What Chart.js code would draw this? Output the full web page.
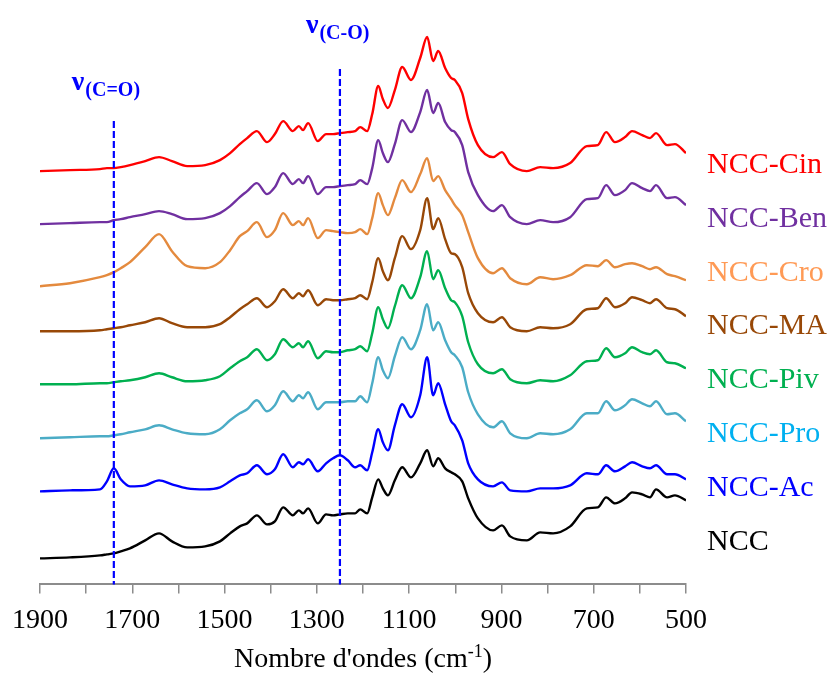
<!DOCTYPE html>
<html>
<head>
<meta charset="utf-8">
<title>Spectres IR des NCC</title>
<script src="https://cdn.jsdelivr.net/npm/chart.js@4.4.0/dist/chart.umd.min.js"></script>
<style>
    html, body { margin: 0; padding: 0; background: #ffffff; }
    #chart { display: block; }
</style>
</head>
<body>
<canvas id="chart" width="831" height="673"></canvas>
<script>
// Wavenumbers (cm-1) at which the spectra were read, from high to low.
var wavenumbers = [
    1900, 1835, 1770, 1755, 1740, 1725, 1705, 1672, 1642, 1614,
    1581, 1542, 1510, 1488, 1467, 1451, 1430, 1408, 1391, 1373,
    1352, 1339, 1330, 1319, 1298, 1280, 1265, 1250, 1233, 1217,
    1206, 1191, 1180, 1167, 1157, 1146, 1131, 1115, 1096, 1076,
    1061, 1048, 1037, 1022, 1009, 1001, 985, 972, 951, 918,
    899, 881, 845, 816, 788, 751, 715, 691, 673, 654,
    632, 617, 595, 578, 565, 541, 524, 500
];

// Absorbance of every sample (a.u. x 100, spectra stacked with an offset).
var nccCin = [
    413, 414, 415, 416, 416, 417, 419, 423, 427, 423,
    418, 419, 424, 431, 440, 446, 453, 442, 450, 463,
    453, 458, 454, 461, 443, 450, 450, 451, 452, 453,
    457, 453, 470, 498, 485, 476, 494, 517, 504, 526,
    547, 523, 533, 516, 506, 504, 491, 465, 439, 427,
    432, 420, 413, 417, 416, 421, 438, 439, 452, 442,
    447, 453, 449, 446, 451, 439, 440, 431
];
var nccBen = [
    360, 361, 362, 362, 364, 365, 367, 370, 373, 370,
    365, 366, 371, 378, 387, 393, 401, 390, 397, 411,
    400, 405, 401, 408, 390, 397, 397, 398, 399, 400,
    404, 400, 416, 444, 431, 422, 440, 464, 452, 472,
    494, 471, 481, 462, 454, 452, 439, 412, 389, 373,
    379, 367, 360, 364, 362, 367, 385, 386, 399, 389,
    394, 401, 396, 393, 399, 386, 387, 379
];
var nccCro = [
    298, 301, 307, 309, 312, 316, 322, 337, 350, 333,
    318, 316, 322, 334, 348, 353, 362, 347, 354, 371,
    359, 363, 359, 366, 346, 354, 353, 352, 351, 352,
    355, 350, 366, 391, 379, 369, 386, 404, 392, 410,
    426, 403, 408, 394, 385, 379, 369, 352, 326, 311,
    316, 306, 300, 307, 305, 309, 319, 318, 324, 317,
    320, 321, 318, 315, 317, 310, 308, 304
];
var nccMa = [
    253, 253, 254, 255, 256, 257, 259, 262, 266, 261,
    257, 257, 260, 267, 275, 280, 286, 277, 283, 295,
    286, 291, 288, 294, 279, 285, 284, 284, 285, 286,
    289, 285, 302, 326, 313, 304, 326, 348, 335, 354,
    386, 355, 366, 345, 331, 330, 317, 291, 271, 262,
    267, 257, 253, 257, 256, 260, 275, 276, 286, 277,
    281, 287, 284, 281, 285, 276, 275, 268
];
var nccPiv = [
    200, 200, 201, 201, 202, 203, 204, 207, 211, 207,
    203, 204, 208, 216, 223, 227, 235, 224, 230, 245,
    237, 241, 237, 243, 226, 233, 232, 232, 234, 235,
    238, 233, 251, 277, 265, 256, 278, 299, 286, 307,
    333, 305, 314, 296, 284, 282, 268, 242, 220, 211,
    215, 205, 201, 204, 203, 209, 223, 224, 236, 227,
    231, 237, 232, 230, 234, 222, 221, 216
];
var nccPro = [
    146, 147, 148, 148, 149, 150, 152, 155, 159, 155,
    151, 150, 155, 164, 171, 175, 184, 173, 179, 193,
    183, 189, 186, 192, 175, 182, 182, 182, 183, 183,
    188, 182, 201, 227, 214, 206, 228, 247, 235, 254,
    280, 254, 262, 244, 232, 229, 217, 192, 170, 157,
    163, 151, 146, 151, 150, 155, 171, 171, 183, 174,
    179, 185, 181, 178, 183, 170, 171, 163
];
var nccAc = [
    93, 94, 95, 103, 116, 105, 98, 99, 104, 100,
    96, 95, 97, 103, 109, 111, 119, 110, 115, 130,
    117, 122, 120, 125, 113, 121, 126, 129, 124, 117,
    119, 114, 132, 155, 142, 134, 159, 180, 167, 189,
    227, 189, 201, 180, 163, 159, 144, 121, 105, 98,
    102, 94, 93, 96, 96, 99, 111, 110, 119, 113,
    118, 122, 118, 116, 119, 110, 110, 105
];
var ncc = [
    26, 27, 29, 30, 31, 33, 36, 44, 51, 43,
    37, 38, 43, 51, 58, 61, 69, 60, 63, 77,
    69, 74, 71, 76, 61, 70, 69, 70, 71, 71,
    75, 71, 87, 105, 96, 89, 104, 117, 107, 121,
    134, 118, 126, 116, 112, 110, 103, 86, 66, 54,
    59, 48, 44, 52, 51, 58, 76, 77, 87, 81,
    86, 92, 90, 87, 95, 87, 89, 84
];

// Sample names, top to bottom, as labelled on the right.
var seriesNames = ['NCC-Cin', 'NCC-Ben', 'NCC-Cro', 'NCC-MA', 'NCC-Piv', 'NCC-Pro', 'NCC-Ac', 'NCC'];

// Labelled ticks of the wavenumber axis.
var tickLabels = [1900, 1700, 1500, 1300, 1100, 900, 700, 500];

// Marked bands: name and wavenumber.
var bandNames = ['C=O', 'C-O'];
var bandPositions = [1740, 1250];

(function () {

    var FONT = '"Liberation Serif", "Times New Roman", serif';
    var BLUE = '#0000ff';

    var seriesValues = [nccCin, nccBen, nccCro, nccMa, nccPiv, nccPro, nccAc, ncc];
    var lineColors = ['#ff0000', '#7030a0', '#e48a3e', '#984807', '#00b050', '#4bacc6', '#0000ff', '#000000'];
    var labelColors = ['#ff0000', '#7030a0', '#ff9a55', '#984807', '#00b050', '#00b0f0', '#0000ff', '#000000'];

    // Where the dashed line starts and where its label sits (in y units).
    var bandStyles = [
        { top: 463, labelY: 494, dx: -42 },
        { top: 515, labelY: 551, dx: -34 }
    ];

    /**
     * Pairs the wavenumbers with one series of values.
     *
     * @param {Array} values
     * @returns {Array}
     */
    function toPoints(values) {
        return wavenumbers.map(function (wn, i) {
            return { x: wn, y: values[i] };
        });
    }

    /**
     * Dashed band markers with their ν labels.
     */
    var bandMarkers = {
        id: 'bandMarkers',
        afterDatasetsDraw: function (chart) {
            var ctx = chart.ctx, xs = chart.scales.x, ys = chart.scales.y;
            var index, px, left, base, w;

            for (index = 0; index < bandNames.length; index++) {
                px = xs.getPixelForValue(bandPositions[index]);

                ctx.save();
                ctx.strokeStyle = BLUE;
                ctx.lineWidth = 2.2;
                ctx.setLineDash([7, 3]);
                ctx.beginPath();
                ctx.moveTo(px, ys.getPixelForValue(bandStyles[index].top));
                ctx.lineTo(px, chart.chartArea.bottom);
                ctx.stroke();

                ctx.setLineDash([]);
                ctx.fillStyle = BLUE;
                ctx.textBaseline = 'alphabetic';
                left = px + bandStyles[index].dx;
                base = ys.getPixelForValue(bandStyles[index].labelY);
                ctx.font = 'bold 28px ' + FONT;
                ctx.fillText('\u03bd', left, base);
                w = ctx.measureText('\u03bd').width;
                ctx.font = 'bold 20px ' + FONT;
                ctx.fillText('(' + bandNames[index] + ')', left + w + 1, base + 6);
                ctx.restore();
            }
        }
    };

    /**
     * Sample names on the right of the plot.
     */
    var seriesLabels = {
        id: 'seriesLabels',
        afterDraw: function (chart) {
            var ctx = chart.ctx, area = chart.chartArea;

            ctx.save();
            ctx.font = '30px ' + FONT;
            ctx.textBaseline = 'alphabetic';
            seriesNames.forEach(function (name, i) {
                ctx.fillStyle = labelColors[i];
                ctx.fillText(name, area.right + 21, 173 + i * 53.8);
            });
            ctx.restore();
        }
    };

    /**
     * Axis title, drawn by hand for the superscript.
     */
    var axisTitle = {
        id: 'axisTitle',
        afterDraw: function (chart) {
            var ctx = chart.ctx, area = chart.chartArea;
            var main = 'Nombre d\'ondes (cm', sup = '-1', end = ')';
            var w1, w2, w3, left, base;

            ctx.save();
            ctx.fillStyle = '#000000';
            ctx.textBaseline = 'alphabetic';
            ctx.font = '28px ' + FONT;
            w1 = ctx.measureText(main).width;
            w3 = ctx.measureText(end).width;
            ctx.font = '18px ' + FONT;
            w2 = ctx.measureText(sup).width;

            left = (area.left + area.right) / 2 - (w1 + w2 + w3) / 2;
            base = chart.height - 6;

            ctx.font = '28px ' + FONT;
            ctx.fillText(main, left, base);
            ctx.font = '18px ' + FONT;
            ctx.fillText(sup, left + w1, base - 10);
            ctx.font = '28px ' + FONT;
            ctx.fillText(end, left + w1 + w2, base);
            ctx.restore();
        }
    };

    var datasets = seriesValues.map(function (values, i) {
        return {
            label: seriesNames[i],
            data: toPoints(values),
            borderColor: lineColors[i],
            borderWidth: 2.4,
            pointRadius: 0,
            fill: false,
            cubicInterpolationMode: 'monotone'
        };
    });

    new Chart(document.getElementById('chart'), {
        type: 'line',
        data: { datasets: datasets },
        options: {
            responsive: false,
            animation: false,
            devicePixelRatio: 1,
            events: [],
            layout: { padding: { left: 40, right: 145, top: 10, bottom: 26 } },
            plugins: {
                legend: { display: false },
                tooltip: { enabled: false }
            },
            scales: {
                x: {
                    type: 'linear',
                    reverse: true,
                    min: 500,
                    max: 1900,
                    ticks: {
                        stepSize: 100,
                        autoSkip: false,
                        maxRotation: 0,
                        padding: 10,
                        color: '#000000',
                        font: { family: FONT, size: 28 },
                        callback: function (value) {
                            return tickLabels.indexOf(value) >= 0 ? String(value) : '';
                        }
                    },
                    grid: {
                        drawOnChartArea: false,
                        drawTicks: true,
                        tickLength: 9,
                        color: '#8c8c8c',
                        lineWidth: 1.5
                    },
                    border: { display: true, color: '#8c8c8c', width: 2 }
                },
                y: {
                    display: false,
                    min: 0,
                    max: 574
                }
            }
        },
        plugins: [bandMarkers, seriesLabels, axisTitle]
    });

})();
</script>
</body>
</html>
